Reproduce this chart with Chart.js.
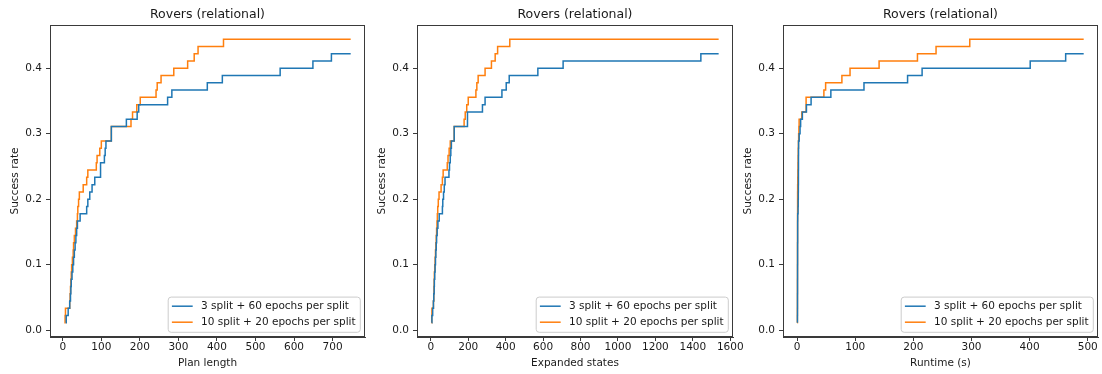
<!DOCTYPE html>
<html>
<head>
<meta charset="utf-8">
<script src="https://cdn.jsdelivr.net/npm/chart.js@4/dist/chart.umd.min.js"></script>
<style>
  html, body { margin: 0; padding: 0; background: #fff; }
  #wrap { position: relative; width: 1102px; height: 374px; overflow: hidden; }
  #wrap canvas { position: absolute; top: 0; }
</style>
</head>
<body>
<div id="wrap"></div>
<script>
// Number of test problems; each solved problem adds one step of 1/90
const TOTAL_INSTANCES = 90;

const seriesLabels = ['3 split + 60 epochs per split', '10 split + 20 epochs per split'];
const seriesColors = ['#1f77b4', '#ff7f0e'];
const chartTitle = 'Rovers (relational)';
const yTitle = 'Success rate';

// Sorted per-problem values for solved problems
const planLength3 = [8, 9, 14, 18, 20, 21, 22, 24, 26, 28, 30, 32, 34, 36, 38, 45, 62, 65, 70, 76,
    83, 98, 98, 108, 110, 112, 126, 126, 165, 193, 197, 272, 283, 375, 414, 564, 649, 697];
const planLength10 = [4, 6, 7, 18, 19, 20, 21, 22, 23, 25, 27, 28, 30, 33, 36, 38, 39, 41, 43, 53,
    62, 65, 87, 89, 96, 100, 126, 126, 177, 181, 192, 201, 242, 245, 255, 288, 324, 341, 351, 417];
const planLengthEnd = 747;

const expanded3 = [5, 6, 10, 14, 16, 18, 19, 21, 23, 25, 27, 29, 31, 34, 38, 45, 62, 64, 68, 72,
    76, 97, 100, 104, 107, 110, 125, 125, 196, 196, 276, 290, 380, 403, 419, 572, 707, 1443];
const expanded10 = [3, 5, 6, 14, 16, 17, 18, 19, 21, 23, 25, 27, 29, 31, 33, 35, 37, 40, 44, 55,
    62, 66, 88, 92, 98, 104, 125, 125, 178, 184, 192, 200, 241, 246, 253, 290, 324, 344, 357, 422];
const expandedEnd = 1538;

const runtime3 = [0.5, 0.5, 0.6, 0.6, 0.6, 0.7, 0.7, 0.7, 0.7, 0.8, 0.8, 0.8, 0.9, 0.9, 0.9, 1.0,
    1.6, 1.8, 2.0, 2.1, 2.2, 2.2, 2.3, 2.3, 2.4, 2.5, 3.5, 5, 6, 9, 16, 24, 58, 115, 190, 215, 401, 462];
const runtime10 = [0.3, 0.4, 0.4, 0.5, 0.5, 0.5, 0.5, 0.6, 0.6, 0.6, 0.6, 0.6, 0.7, 0.7, 0.7, 0.7,
    0.8, 0.8, 0.8, 0.9, 1.1, 1.3, 1.5, 1.7, 1.9, 2.2, 2.6, 3.0, 3.4, 8, 15.4, 15.4, 46, 49, 77, 91,
    141, 207, 239, 297];
const runtimeEnd = 493;

const yTicks = [0, 0.1, 0.2, 0.3, 0.4];
const planTicks = [0, 100, 200, 300, 400, 500, 600, 700];
const expandedTicks = [0, 200, 400, 600, 800, 1000, 1200, 1400, 1600];
const runtimeTicks = [0, 100, 200, 300, 400, 500];

const FONT = 'DejaVu Sans';
const TEXT_COLOR = '#1a1a1a';
const AXIS_COLOR = '#3a3a3a';

const panels = [
    { left: 0, width: 380, padRight: 15, xTitle: 'Plan length', series: [planLength3, planLength10], end: planLengthEnd, ticks: planTicks },
    { left: 367, width: 383, padRight: 17, xTitle: 'Expanded states', series: [expanded3, expanded10], end: expandedEnd, ticks: expandedTicks },
    { left: 733, width: 369, padRight: 4, xTitle: 'Runtime (s)', series: [runtime3, runtime10], end: runtimeEnd, ticks: runtimeTicks }
];

function stepPoints(values, endX) {
    const pts = values.map((v, i) => ({ x: v, y: (i + 1) / TOTAL_INSTANCES }));
    pts.push({ x: endX, y: values.length / TOTAL_INSTANCES });
    return pts;
}

// matplotlib style 5% margins around the data
function paddedRange(lo, hi) {
    const m = (hi - lo) * 0.05;
    return [lo - m, hi + m];
}

// Top and right spines
const frameBox = {
    id: 'frameBox',
    afterDatasetsDraw(chart) {
        const { ctx, chartArea: a } = chart;
        const l = Math.round(a.left) + 0.5, t = Math.round(a.top) + 0.5;
        const r = Math.round(a.right) - 0.5, b = Math.round(a.bottom) - 0.5;
        ctx.save();
        ctx.strokeStyle = AXIS_COLOR;
        ctx.lineWidth = 1;
        ctx.strokeRect(l, t, r - l, b - t);
        ctx.restore();
    }
};

// Legend box in the lower right corner of the plot
const innerLegend = {
    id: 'innerLegend',
    afterDraw(chart) {
        const { ctx, chartArea: a } = chart;
        const fs = 10.5;
        const pad = 4.2, handle = 20.8, gap = 8.3, rowH = 10.8, rowGap = 5.2, margin = 5.2;
        ctx.save();
        ctx.font = `${fs}px "${FONT}"`;
        const textW = Math.max(...seriesLabels.map(s => ctx.measureText(s).width));
        const w = pad + handle + gap + textW + pad;
        const h = pad * 2 + rowH * 2 + rowGap;
        const x = a.right - margin - w;
        const y = a.bottom - margin - h;
        ctx.beginPath();
        if (ctx.roundRect) ctx.roundRect(x + 0.5, y + 0.5, w, h, 3);
        else ctx.rect(x + 0.5, y + 0.5, w, h);
        ctx.fillStyle = 'rgba(255,255,255,0.8)';
        ctx.fill();
        ctx.strokeStyle = '#cccccc';
        ctx.lineWidth = 1;
        ctx.stroke();
        seriesLabels.forEach((label, i) => {
            const cy = y + pad + rowH / 2 + i * (rowH + rowGap);
            ctx.strokeStyle = seriesColors[i];
            ctx.lineWidth = 1.5;
            ctx.beginPath();
            ctx.moveTo(x + pad, cy);
            ctx.lineTo(x + pad + handle, cy);
            ctx.stroke();
            ctx.fillStyle = TEXT_COLOR;
            ctx.textBaseline = 'middle';
            ctx.textAlign = 'left';
            ctx.fillText(label, x + pad + handle + gap, cy + 0.5);
        });
        ctx.restore();
    }
};

function createPanel(panel) {
    const canvas = document.createElement('canvas');
    canvas.width = panel.width;
    canvas.height = 374;
    canvas.style.left = panel.left + 'px';
    canvas.style.width = panel.width + 'px';
    canvas.style.height = '374px';
    document.getElementById('wrap').appendChild(canvas);

    const allX = panel.series.flat();
    const [xMin, xMax] = paddedRange(Math.min(...allX), panel.end);
    const [yMin, yMax] = paddedRange(1 / TOTAL_INSTANCES,
        Math.max(...panel.series.map(s => s.length)) / TOTAL_INSTANCES);

    const tickFont = { family: FONT, size: 10.5 };
    const gridOpts = { drawOnChartArea: false, drawTicks: true, tickLength: 4, tickColor: AXIS_COLOR, tickWidth: 1 };

    new Chart(canvas, {
        type: 'line',
        data: {
            datasets: panel.series.map((values, i) => ({
                label: seriesLabels[i],
                data: stepPoints(values, panel.end),
                borderColor: seriesColors[i],
                backgroundColor: seriesColors[i],
                borderWidth: 1.5,
                pointRadius: 0,
                stepped: 'before',
                fill: false
            }))
        },
        options: {
            responsive: false,
            animation: false,
            devicePixelRatio: 1,
            layout: { padding: { left: 0, right: panel.padRight, top: 0, bottom: 0 } },
            plugins: {
                legend: { display: false },
                tooltip: { enabled: false },
                title: {
                    display: true,
                    text: chartTitle,
                    fullSize: false,
                    color: TEXT_COLOR,
                    font: { family: FONT, size: 12.5, weight: 'normal' },
                    padding: { top: 7, bottom: 3 }
                }
            },
            scales: {
                x: {
                    type: 'linear',
                    min: xMin,
                    max: xMax,
                    afterBuildTicks: ax => { ax.ticks = panel.ticks.map(v => ({ value: v })); },
                    afterFit: ax => { ax.height = 37; },
                    ticks: { font: tickFont, color: TEXT_COLOR, padding: 0, maxRotation: 0, autoSkip: false, callback: v => String(v) },
                    grid: gridOpts,
                    border: { display: true, color: AXIS_COLOR, width: 1 },
                    title: { display: true, text: panel.xTitle, color: TEXT_COLOR, font: tickFont, padding: { top: 0, bottom: 4 } }
                },
                y: {
                    type: 'linear',
                    min: yMin,
                    max: yMax,
                    afterBuildTicks: ax => { ax.ticks = yTicks.map(v => ({ value: v })); },
                    afterFit: ax => { ax.width = 50; },
                    ticks: { font: tickFont, color: TEXT_COLOR, padding: 4, autoSkip: false, callback: v => v.toFixed(1) },
                    grid: gridOpts,
                    border: { display: true, color: AXIS_COLOR, width: 1 },
                    title: { display: true, text: yTitle, color: TEXT_COLOR, font: tickFont, padding: { top: 9, bottom: 0 } }
                }
            }
        },
        plugins: [frameBox, innerLegend]
    });
}

panels.forEach(createPanel);
</script>
</body>
</html>
